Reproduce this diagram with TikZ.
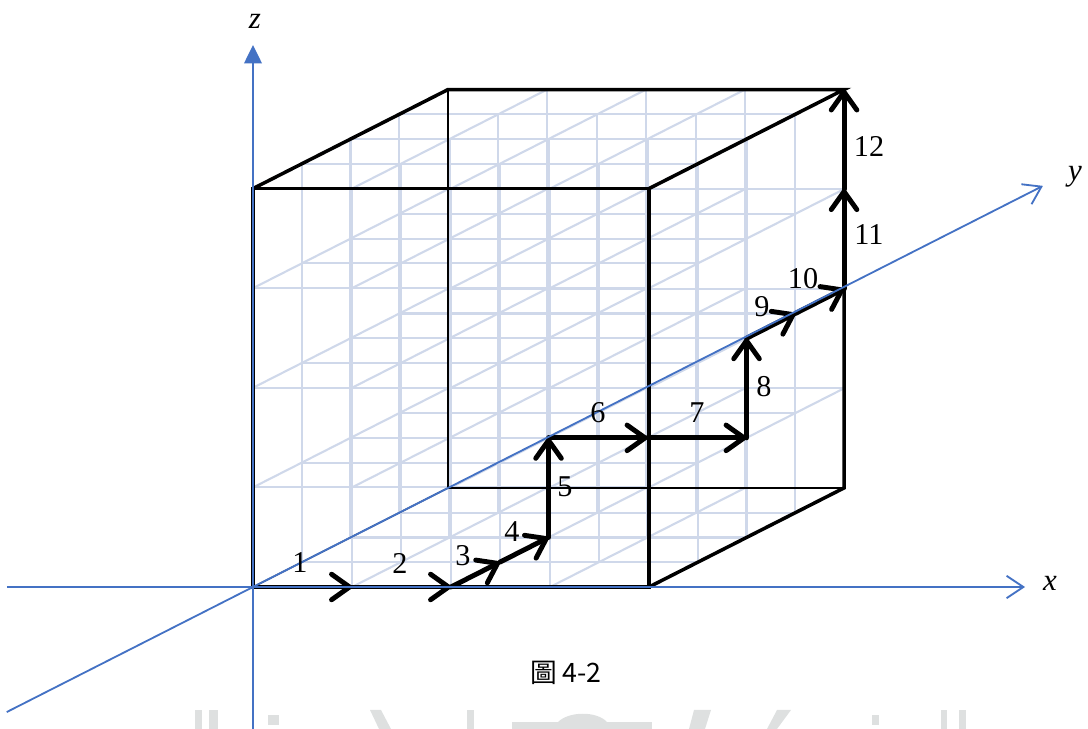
\documentclass[tikz,border=0pt]{standalone}
\usepackage{fontspec}
\setmainfont{Liberation Serif}
\newfontfamily\cjk{Noto Sans CJK TC}
\usetikzlibrary{arrows.meta}
\definecolor{axb}{RGB}{68,114,196}
\definecolor{lat}{RGB}{207,216,234}
\definecolor{wm}{RGB}{222,224,224}

\begin{document}
\begin{tikzpicture}[
  x={(2.475cm,0cm)},y={(1.219cm,0.619cm)},z={(0cm,2.49cm)},
  latl/.style={lat,line width=1.5pt},
  edg/.style={black,line width=2.5pt,line join=miter},
  hid/.style={black,line width=0.9pt},
  walk/.style={line width=3.5pt,line cap=round,-{Straight Barb[length=4.5mm,width=6.4mm,round]}},
  ax/.style={axb,line width=1.3pt},
  num/.style={font=\fontsize{21.5}{24}\selectfont},
  axl/.style={font=\fontsize{22}{24}\selectfont\itshape}]
\useasboundingbox (-6.325cm,-3.55cm) rectangle (20.875cm,14.675cm);
% watermark remains at the bottom edge
\fill[wm] (-1.45cm,-3.075cm) rectangle (-1.275cm,-3.55cm);
\fill[wm] (-1.1cm,-3.075cm) rectangle (-0.875cm,-3.55cm);
\fill[wm] (0.375cm,-3.2cm) rectangle (0.65cm,-3.45cm);
\fill[wm] (2.925cm,-3.075cm) -- (3.2cm,-3.075cm) -- (3.45cm,-3.55cm) -- (3.15cm,-3.55cm) -- cycle;
\fill[wm] (5.35cm,-3.075cm) rectangle (5.525cm,-3.55cm);
\fill[wm] (6.475cm,-3.375cm) rectangle (9.975cm,-3.55cm);
\fill[wm] (7.625cm,-3.375cm) .. controls (7.9cm,-3.1cm) and (8.6cm,-3.1cm) .. (8.85cm,-3.375cm) -- cycle;
\fill[wm] (11.025cm,-3.075cm) -- (11.45cm,-3.075cm) -- (11.3cm,-3.55cm) -- (10.9cm,-3.55cm) -- cycle;
\fill[wm] (13.1cm,-3.075cm) -- (13.45cm,-3.075cm) -- (13.1cm,-3.55cm) -- (12.85cm,-3.55cm) -- cycle;
\fill[wm] (15.475cm,-3.2cm) rectangle (15.65cm,-3.45cm);
\fill[wm] (17.2cm,-3.075cm) rectangle (17.35cm,-3.55cm);
\fill[wm] (17.65cm,-3.075cm) rectangle (17.825cm,-3.55cm);
% lattice
\foreach \a in {0,...,4}
  \foreach \b in {0,...,4}{
    \draw[latl] (\a,\b,0) -- (\a,\b,4);
    \draw[latl] (\a,0,\b) -- (\a,4,\b);
    \draw[latl] (0,\a,\b) -- (4,\a,\b);
  }
% cube
\coordinate (fbl) at (0,0,0); \coordinate (fbr) at (4,0,0);
\coordinate (ftr) at (4,0,4); \coordinate (ftl) at (0,0,4);
\coordinate (bbl) at (0,4,0); \coordinate (bbr) at (4,4,0);
\coordinate (btr) at (4,4,4); \coordinate (btl) at (0,4,4);
\draw[hid] (btl) -- (bbl) -- (bbr);
\draw[hid] (fbl) -- (bbl);
\draw[edg] (fbl) -- (fbr) -- (ftr) -- (ftl) -- cycle;
\draw[edg] (ftl) -- (btl) -- (btr) -- (ftr);
\draw[edg] (fbr) -- (bbr) -- (btr);
% path
\coordinate (p0) at (0,0,0);  \coordinate (p1) at (1,0,0);
\coordinate (p2) at (2,0,0);  \coordinate (p3) at (2,1,0);
\coordinate (p4) at (2,2,0);  \coordinate (p5) at (2,2,1);
\coordinate (p6) at (3,2,1);  \coordinate (p7) at (4,2,1);
\coordinate (p8) at (4,2,2);  \coordinate (p9) at (4,3,2);
\coordinate (p10) at (4,4,2); \coordinate (p11) at (4,4,3);
\coordinate (p12) at (4,4,4);
\foreach \i [evaluate=\i as \j using int(\i-1)] in {1,...,12}
  \draw[walk] (p\j) -- (p\i);
% axes
\coordinate (xs) at (-6.15cm,0cm); \coordinate (xe) at (19.3cm,0cm);
\coordinate (zs) at (0cm,-3.6cm);  \coordinate (ze) at (0cm,13.55cm);
\coordinate (ys) at (0,-5.05,0);   \coordinate (ye) at (0,16.2,0);
\draw[ax,-{Straight Barb[length=4.2mm,width=5.6mm]}] (xs) -- (xe);
\draw[ax,-{Straight Barb[length=4.2mm,width=5.6mm]}] (ys) -- (ye);
\draw[ax,-{Triangle[length=4.6mm,width=4.4mm]}] (zs) -- (ze);
\node[axl] (lx) at (19.925cm,0.1cm) {x};
\node[axl] (ly) at (20.55cm,10.25cm) {y};
\node[axl] (lz) at (0.05cm,14.15cm) {z};
% step numbers
\node[num] (n1) at (1.175cm,0.6cm) {1};
\node[num] (n2) at (3.675cm,0.6cm) {2};
\node[num] (n3) at (5.25cm,0.775cm) {3};
\node[num] (n4) at (6.475cm,1.375cm) {4};
\node[num] (n5) at (7.8cm,2.5cm) {5};
\node[num] (n6) at (8.625cm,4.35cm) {6};
\node[num] (n7) at (11.1cm,4.35cm) {7};
\node[num] (n8) at (12.775cm,5.0cm) {8};
\node[num] (n9) at (12.725cm,7.0cm) {9};
\node[num] (n10) at (13.75cm,7.7cm) {10};
\node[num] (n11) at (15.4cm,8.8cm) {11};
\node[num] (n12) at (15.4cm,11.0cm) {12};
\node[font=\fontsize{19}{22}\selectfont] (cap) at (7.825cm,-2.15cm) {\cjk 圖 4-2};
\end{tikzpicture}
\end{document}
